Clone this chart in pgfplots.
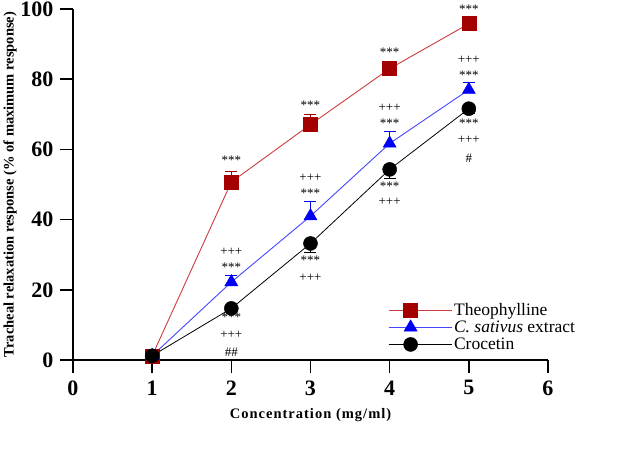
\documentclass[border=0pt]{standalone}
\usepackage{pgfplots}
\pgfplotsset{compat=1.18}
\usepackage{fontspec}
\setmainfont{Liberation Serif}
\definecolor{theo}{RGB}{165,0,0}
\definecolor{theoline}{RGB}{205,60,60}
\definecolor{sat}{RGB}{0,0,245}
\definecolor{satline}{RGB}{70,70,255}
\begin{document}
\begin{tikzpicture}[x=1pt,y=1pt]
\useasboundingbox (-73,-89) rectangle (565,360);
\begin{axis}[
  at={(0,0)}, anchor=south west,
  scale only axis, width=475pt, height=351pt,
  xmin=0, xmax=6, ymin=0, ymax=100,
  axis lines=left,
  axis line style={line width=1.5pt, -},
  xtick={0,...,6}, ytick={0,20,...,100},
  tick align=outside, major tick length=13pt,
  tick style={line width=1.5pt, black},
  /pgf/number format/assume math mode=true,
  ticklabel style={font=\fontsize{22}{22}\selectfont\bfseries},
  xticklabel style={yshift=-4pt},
  yticklabel style={xshift=-3pt},
  xlabel={\addfontfeatures{LetterSpace=7}Concentration (mg/ml)},
  ylabel={Tracheal relaxation response (\% of maximum response)},
  xlabel style={font=\fontsize{14.5}{14.5}\selectfont\bfseries, yshift=-6pt},
  ylabel style={font=\fontsize{14.5}{14.5}\selectfont\bfseries,
    at={(axis description cs:-0.1326,0.5)}, anchor=center},
  legend style={draw=none, fill=none, at={(0.661,0.171)}, anchor=north west,
    font=\fontsize{17.5}{17.5}\selectfont, row sep=0pt, inner sep=1pt},
  legend cell align=left,
  legend image code/.code={\path (0pt,0pt) -- (63pt,0pt);\draw[mark repeat=2,mark phase=2,#1] plot coordinates {(0pt,0pt) (22pt,0pt) (44pt,0pt)};},
  clip=false,
]
\addplot[theoline, line width=0.9pt, mark=square*, mark size=7pt,
  mark options={fill=theo, draw=theo, line width=0.5pt},
  error bars/.cd, y dir=plus, y explicit,
  error bar style={theo, line width=1pt},
  error mark options={rotate=90, theo, mark size=6pt, line width=1pt}]
  coordinates {(1,1.2) +- (0,0) (2,50.7) +- (0,2.9) (3,67.1) +- (0,2.9) (4,83.0) +- (0,1.9) (5,95.8) +- (0,0.5)};
\addlegendentry{Theophylline}
\addplot[satline, line width=0.9pt, mark=triangle*, mark size=7.5pt,
  mark options={fill=sat, draw=sat, line width=0.5pt},
  error bars/.cd, y dir=plus, y explicit,
  error bar style={sat, line width=1pt},
  error mark options={rotate=90, sat, mark size=6pt, line width=1pt}]
  coordinates {(1,1.2) +- (0,0) (2,22.2) +- (0,2.0) (3,41.0) +- (0,4.2) (4,61.7) +- (0,3.4) (5,77.0) +- (0,2.2)};
\addlegendentry{\textit{C. sativus} extract}
\addplot[black, line width=0.8pt, mark=*, mark size=7pt,
  mark options={fill=black, draw=black, line width=0.5pt},
  error bars/.cd, y dir=minus, y explicit,
  error bar style={black, line width=1pt},
  error mark options={rotate=90, black, mark size=6pt, line width=1pt}]
  coordinates {(1,1.2) +- (0,0) (2,14.7) +- (0,0.6) (3,33.2) +- (0,2.6) (4,54.3) +- (0,2.5) (5,71.6) +- (0,1.5)};
\addlegendentry{Crocetin}
\tikzset{ann/.style={font=\fontsize{13}{13}\selectfont, inner sep=0pt, anchor=center}}
\node[ann] at (axis cs:2,56.9) {***};
\node[ann] at (axis cs:2,30.7) {+++};
\node[ann] at (axis cs:2,26.5) {***};
\node[ann] at (axis cs:2,12.2) {***};
\node[ann] at (axis cs:2,7.1) {+++};
\node[ann] at (axis cs:2,2.3) {\#\#};
\node[ann] at (axis cs:3,72.5) {***};
\node[ann] at (axis cs:3,51.8) {+++};
\node[ann] at (axis cs:3,47.5) {***};
\node[ann] at (axis cs:3,28.4) {***};
\node[ann] at (axis cs:3,23.5) {+++};
\node[ann] at (axis cs:4,87.6) {***};
\node[ann] at (axis cs:4,71.8) {+++};
\node[ann] at (axis cs:4,67.5) {***};
\node[ann] at (axis cs:4,49.6) {***};
\node[ann] at (axis cs:4,45.1) {+++};
\node[ann] at (axis cs:5,99.8) {***};
\node[ann] at (axis cs:5,85.5) {+++};
\node[ann] at (axis cs:5,81.1) {***};
\node[ann] at (axis cs:5,67.5) {***};
\node[ann] at (axis cs:5,62.6) {+++};
\node[ann] at (axis cs:5,57.6) {\#};
\end{axis}
\end{tikzpicture}
\end{document}
